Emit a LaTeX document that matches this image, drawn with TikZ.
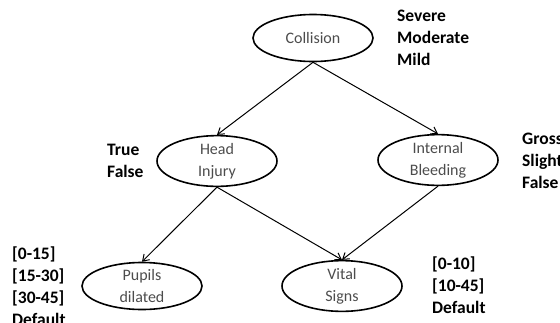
\documentclass[tikz,border=0pt]{standalone}
\usepackage{fontspec}
\setmainfont{Carlito}
\usetikzlibrary{shapes.geometric}
\usetikzlibrary{arrows.meta}

\begin{document}
\begin{tikzpicture} [x=1pt, y=-1pt,
  var/.style={draw, ellipse, line width=1.6pt, minimum width=120pt, minimum height=47pt, inner sep=0pt, align=center, text=black!70, font=\fontsize{16}{22}\selectfont},
  states/.style={anchor=west, inner sep=0pt, align=left, font=\fontsize{17.5}{22}\selectfont\bfseries},
  link/.style={line width=1pt, -{Straight Barb[length=6pt, width=8pt]}}]
\useasboundingbox (0,0) rectangle (560,322);

\node[var] (col) at (313,38) {Collision};
\node[var] (head) at (217,161) {Head\\Injury};
\node[var] (bleed) at (438,160) {Internal\\Bleeding};
\node[var] (pupil) at (142,286) {Pupils\\dilated};
\node[var] (vital) at (342,286) {Vital\\Signs};

\node[states] (colst) at (397,38) {Severe\\Moderate\\Mild};
\node[states] (headst) at (107,161) {True\\False};
\node[states] (bleedst) at (522,161) {Gross\\Slight\\False};
\node[states] (pupilst) at (12,286) {[0-15]\\{}[15-30]\\{}[30-45]\\Default};
\node[states] (vitalst) at (432,285) {[0-10]\\{}[10-45]\\Default};

\draw[link] (col.south) -- (head.north);
\draw[link] (col.south) -- (bleed.north);
\draw[link] (head.south) -- (pupil.north);
\draw[link] (head.south) -- (vital.north);
\draw[link] (bleed.south) -- (vital.north);

\end{tikzpicture}
\end{document}
